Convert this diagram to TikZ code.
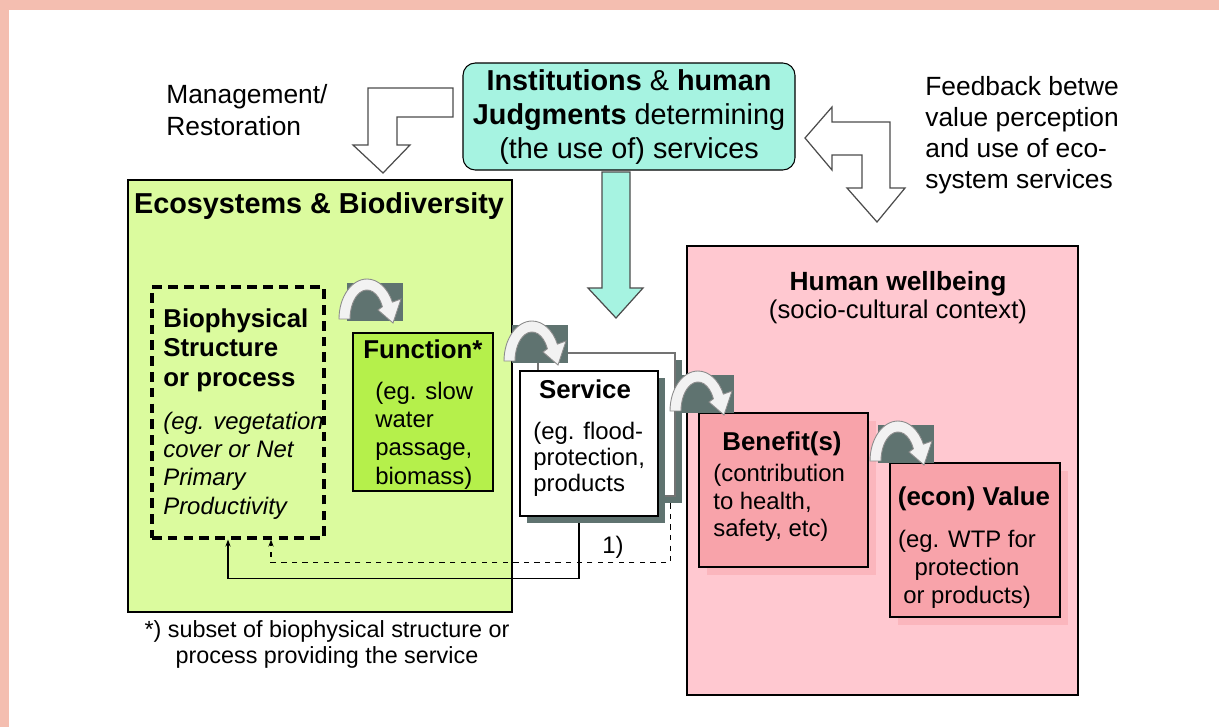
\documentclass[tikz,border=0pt]{standalone}
\usepackage{fontspec}
\setmainfont{Liberation Sans}
\usetikzlibrary{calc,fit,arrows.meta}

\definecolor{rim}{HTML}{F4BEB0}
\definecolor{ecogreen}{HTML}{DBFB9E}
\definecolor{funcgreen}{HTML}{B5F04B}
\definecolor{darkbox}{HTML}{5F7370}
\definecolor{wellpink}{HTML}{FFC8D0}
\definecolor{redpink}{HTML}{F8A3AA}
\definecolor{shadowpink}{HTML}{FBB6BD}
\definecolor{aqua}{HTML}{A6F3E1}

\begin{document}
\begin{tikzpicture}[x=0.02cm, y=-0.02cm,
  box/.style={draw=black, line width=0.6pt, inner sep=0pt},
  ecobox/.style={box, fill=ecogreen},
  biobox/.style={draw=black, line width=1.8pt, dash pattern=on 5.5pt off 3.5pt, inner sep=0pt},
  funcbox/.style={box, fill=funcgreen},
  svcbox/.style={box, fill=white},
  backbox/.style={draw=black!55, line width=0.6pt, fill=white, inner sep=0pt},
  darkshadow/.style={fill=darkbox, inner sep=0pt},
  wellbox/.style={box, fill=wellpink},
  redbox/.style={box, fill=redpink},
  redshadow/.style={fill=shadowpink, inner sep=0pt},
  instbox/.style={box, fill=aqua, rounded corners=7pt},
  hollow/.style={draw=black!70, line width=0.7pt, fill=white, line join=miter},
  fbline/.style={draw=black, line width=0.6pt, -{Stealth[length=4pt, width=3pt]}},
  hdr/.style={font=\fontsize{14.7}{17}\selectfont\bfseries, inner sep=0pt},
  txt/.style={font=\fontsize{13.6}{16}\selectfont, inner sep=0pt, align=left},
  curl/.pic={
    \fill[darkbox] (0,0) rectangle (56,38);
    \filldraw[fill=white!90!gray, draw=black!45, line width=0.5pt]
      (-8,36) arc[start angle=180, end angle=335, x radius=28, y radius=40]
      -- (54,16) -- (46,40) -- (31,27) -- (35.4,23.7)
      arc[start angle=335, end angle=180, x radius=17, y radius=29] -- cycle;
  }
]
\useasboundingbox (0,0) rectangle (1219,727);

% Frame
\fill[rim] (0,0) rectangle (1219,10);
\fill[rim] (0,0) rectangle (9,727);

% Ecosystem side
\node[ecobox, fit={(128,180) (512,612)}] (eco) {};
\node[biobox, fit={(152,287) (324,538)}] (bio) {};
\node[funcbox, fit={(353,333) (493,491)}] (func) {};

% Service (two stacked sheets)
\node[darkshadow, fit={(545,360) (682,503)}] (backsh) {};
\node[backbox, fit={(538,353) (675,496)}] (back) {};
\node[darkshadow, fit={(527,378) (665,523)}] (svcsh) {};
\node[svcbox, fit={(520,371) (658,516)}] (svc) {};

% Human side
\node[wellbox, fit={(687,246) (1078,695)}] (well) {};
\node[redshadow, fit={(707,421) (876,575)}] (bensh) {};
\node[redbox, fit={(699,413) (868,567)}] (ben) {};
\node[redshadow, fit={(898,471) (1068,625)}] (valsh) {};
\node[redbox, fit={(890,463) (1060,617)}] (val) {};

% Institutions
\node[instbox, fit={(463,63) (795,170)}] (inst) {};

% Block arrows
\draw[hollow] (453,88) -- (368,88) -- (368,145) -- (353,145) -- (383,173)
  -- (410,145) -- (397,145) -- (397,117) -- (453,117) -- cycle;
\draw[hollow] (805,138) -- (832,107) -- (832,122) -- (890,122) -- (890,188)
  -- (905,188) -- (877,222) -- (847,188) -- (862,188) -- (862,155)
  -- (832,155) -- (832,170) -- cycle;
\draw[draw=black!70, line width=0.7pt, fill=aqua] (602,172) -- (630,172) -- (630,288)
  -- (643,288) -- (616,318) -- (588,288) -- (602,288) -- cycle;

% Curled arrows between steps
\pic at (347,283) {curl};
\pic at (512,325) {curl};
\pic at (678,375) {curl};
\pic at (878,425) {curl};

% Feedback lines
\draw[fbline] ($(svcsh.south)+(-17,0)$) -- ++(0,55) -| ($(bio.south)+(-10,0)$);
\draw[fbline, dashed] ($(backsh.south east)+(-12,0)$) -- ++(0,59) -| ($(bio.south)+(33,0)$);
\node[txt] (one) at (613,547) {1)};

% Texts
\node[hdr, font=\fontsize{16.4}{19}\selectfont\bfseries, anchor=base] (ecot) at (319,213) {Ecosystems \& Biodiversity};
\node[hdr, anchor=north west, align=left] (biot) at (163,308) {Biophysical\\Structure\\or process};
\node[txt, anchor=north west, font=\fontsize{13.6}{16}\selectfont\itshape] (biotx) at (163,412) {(eg. vegetation\\cover or Net\\Primary\\Productivity};
\node[hdr, anchor=base west] (funct) at (363,358) {Function*};
\node[txt, anchor=north west] (functx) at (375,382) {(eg. slow\\water\\passage,\\biomass)};
\node[hdr, anchor=base] (svct) at (585,398) {Service};
\node[txt, anchor=north west, font=\fontsize{13.6}{14.8}\selectfont] (svctx) at (533,422) {(eg. flood-\\protection,\\products};
\node[hdr, anchor=base] (bent) at (782,450) {Benefit(s)};
\node[txt, anchor=north west, font=\fontsize{13.6}{15.6}\selectfont] (bentx) at (713,464) {(contribution\\to health,\\safety, etc)};
\node[hdr, anchor=base] (valt) at (974,505) {(econ) Value};
\node[txt, anchor=north, align=center] (valtx) at (967,530) {(eg. WTP for\\protection\\or products)};
\node[hdr, font=\fontsize{15}{18}\selectfont\bfseries, anchor=base] (wellt) at (898,290) {Human wellbeing};
\node[txt, font=\fontsize{14.6}{17}\selectfont, anchor=base] (welltx) at (898,318) {(socio-cultural context)};
\node[txt, align=center, anchor=north, font=\fontsize{16.4}{19.3}\selectfont] (instt) at (629,69) {\textbf{Institutions} \& \textbf{human}\\\textbf{Judgments} determining\\(the use of) services};
\node[txt, anchor=north west, font=\fontsize{15}{18}\selectfont] (mgmt) at (166,84) {Management/\\Restoration};
\node[txt, anchor=north west, font=\fontsize{15}{17.6}\selectfont] (fbk) at (925,76) {Feedback betwe\\value perception\\and use of eco-\\system services};
\node[txt, align=center, anchor=north, font=\fontsize{13.3}{14.7}\selectfont] (note) at (327,620) {*) subset of biophysical structure or\\process providing the service};

\end{tikzpicture}
\end{document}
